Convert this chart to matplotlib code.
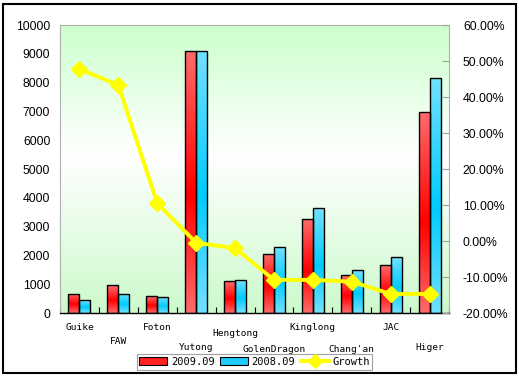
import numpy as np
import matplotlib
matplotlib.use("Agg")
import matplotlib.pyplot as plt
from matplotlib.patches import Rectangle, Patch
from matplotlib.lines import Line2D
from matplotlib.colors import LinearSegmentedColormap
from matplotlib.ticker import FuncFormatter, FixedLocator
import matplotlib.transforms as mtransforms

categories = ["Guike", "FAW", "Foton", "Yutong", "Hengtong", "GolenDragon",
              "Kinglong", "Chang'an", "JAC", "Higer"]
sales_2009 = [660, 970, 590, 9090, 1110, 2050, 3260, 1310, 1660, 6970]
sales_2008 = [450, 660, 555, 9090, 1145, 2290, 3640, 1490, 1940, 8150]
growth = [0.478, 0.433, 0.105, -0.005, -0.02, -0.108, -0.108, -0.113, -0.147, -0.147]
left_ticks = [0, 1000, 2000, 3000, 4000, 5000, 6000, 7000, 8000, 9000, 10000]
right_ticks = [-0.2, -0.1, 0.0, 0.1, 0.2, 0.3, 0.4, 0.5, 0.6]
legend_labels = ["2009.09", "2008.09", "Growth"]

# layout: vertical pixel offsets below the axis for the staggered category labels
label_drop = [15, 29, 15, 34, 20, 36, 15, 37, 15, 35]

W, H = 519, 378
fig = plt.figure(figsize=(W / 100, H / 100), dpi=100)
fig.patch.set_facecolor("white")

ax = fig.add_axes([60 / W, 1 - 313 / H, (449 - 60) / W, (313 - 25) / H])
ax2 = ax.twinx()

# background gradient (green - white - green)
bg = LinearSegmentedColormap.from_list(
    "bg", [(0.0, (0.80, 0.98, 0.80)), (0.55, (1, 1, 1)), (1.0, (0.80, 1.0, 0.80))])
grad = np.linspace(0, 1, 256).reshape(-1, 1)
ax.imshow(grad, cmap=bg, aspect="auto", extent=[0, 1, 0, 1],
          transform=ax.transAxes, origin="lower", zorder=0, interpolation="bicubic")

n = len(categories)
x = np.arange(n)
bw = 0.283

red_cm = LinearSegmentedColormap.from_list(
    "r", [(0, (1, 0.42, 0.42)), (0.45, (1, 0.0, 0.0)), (1, (1, 0.42, 0.42))])
blue_cm = LinearSegmentedColormap.from_list(
    "b", [(0, (0.45, 0.88, 1.0)), (0.45, (0.0, 0.80, 1.0)), (1, (0.45, 0.88, 1.0))])

def grad_bars(xs, vals, cmap):
    bars = ax.bar(xs, vals, width=bw, facecolor="none", edgecolor="black",
                  linewidth=1.0, zorder=3)
    for b in bars:
        x0, y0 = b.get_x(), b.get_y()
        w, h = b.get_width(), b.get_height()
        im = ax.imshow(grad, cmap=cmap, aspect="auto",
                       extent=[x0, x0 + w, y0, y0 + h], origin="lower",
                       zorder=2, interpolation="bicubic")
        im.set_clip_path(b)
    return bars

grad_bars(x - bw / 2, sales_2009, red_cm)
grad_bars(x + bw / 2, sales_2008, blue_cm)

ax.set_xlim(-0.5, n - 0.5)
ax.set_ylim(0, 10000)
ax.set_yticks(left_ticks)
ax.set_yticklabels([str(v) for v in left_ticks], fontsize=8.8, family="Liberation Sans")
ax.tick_params(axis="y", length=0, pad=7)

ax.xaxis.set_major_locator(FixedLocator(np.arange(-0.5, n, 1.0)))
ax.set_xticklabels([])
ax.tick_params(axis="x", direction="in", length=4, width=0.8, color="black")

for s in ["top", "left", "right"]:
    ax.spines[s].set_color("#b0b0b0")
ax.spines["bottom"].set_color("black")
ax.spines["bottom"].set_linewidth(1.0)

# staggered category labels
base_tr = mtransforms.blended_transform_factory(ax.transData, ax.transAxes)
for i, (c, d) in enumerate(zip(categories, label_drop)):
    tr = base_tr + mtransforms.ScaledTranslation(0, -d / 100, fig.dpi_scale_trans)
    ax.text(x[i], 0, c, transform=tr, ha="center", va="center",
            fontsize=6.8, family="DejaVu Sans Mono")

# growth line
ax2.plot(x, growth, color="#ffff00", lw=2.8, marker="D", markersize=8.5,
         markerfacecolor="#ffff00", markeredgecolor="#ffff00", zorder=5)
ax2.set_ylim(-0.2, 0.6)
ax2.set_yticks(right_ticks)
ax2.yaxis.set_major_formatter(FuncFormatter(lambda v, p: f"{v * 100:.2f}%"))
for t in ax2.get_yticklabels():
    t.set_family("Liberation Sans")
ax2.tick_params(axis="y", direction="in", length=5, color="#a0a0a0", pad=10, labelsize=8.8)
for s in ["top", "left", "right", "bottom"]:
    ax2.spines[s].set_visible(False)
ax.set_zorder(1)
ax2.set_zorder(2)
ax2.patch.set_visible(False)

# legend
handles = [Patch(facecolor="#ff2020", edgecolor="black", linewidth=0.8),
           Patch(facecolor="#20ccff", edgecolor="black", linewidth=0.8),
           Line2D([0], [0], color="#ffff00", lw=2.8, marker="D", markersize=7)]
leg = fig.legend(handles, legend_labels, loc="center",
                 bbox_to_anchor=((132 + 377) / 2 / W, 1 - 362 / H),
                 ncol=3, frameon=True, fancybox=False, framealpha=1,
                 edgecolor="#a0a0a0", prop={"family": "DejaVu Sans Mono", "size": 7.5},
                 handlelength=2.7, handleheight=0.8, columnspacing=0.5,
                 handletextpad=0.35, borderpad=0.25, borderaxespad=0)
leg.get_frame().set_linewidth(0.8)

# outer border
fig.add_artist(Rectangle((3 / W, 1 - 373 / H), (516 - 3) / W, (373 - 4) / H,
                         transform=fig.transFigure, fill=False, edgecolor="black",
                         linewidth=1.5, zorder=10))

fig.savefig("out.png", dpi=100)
